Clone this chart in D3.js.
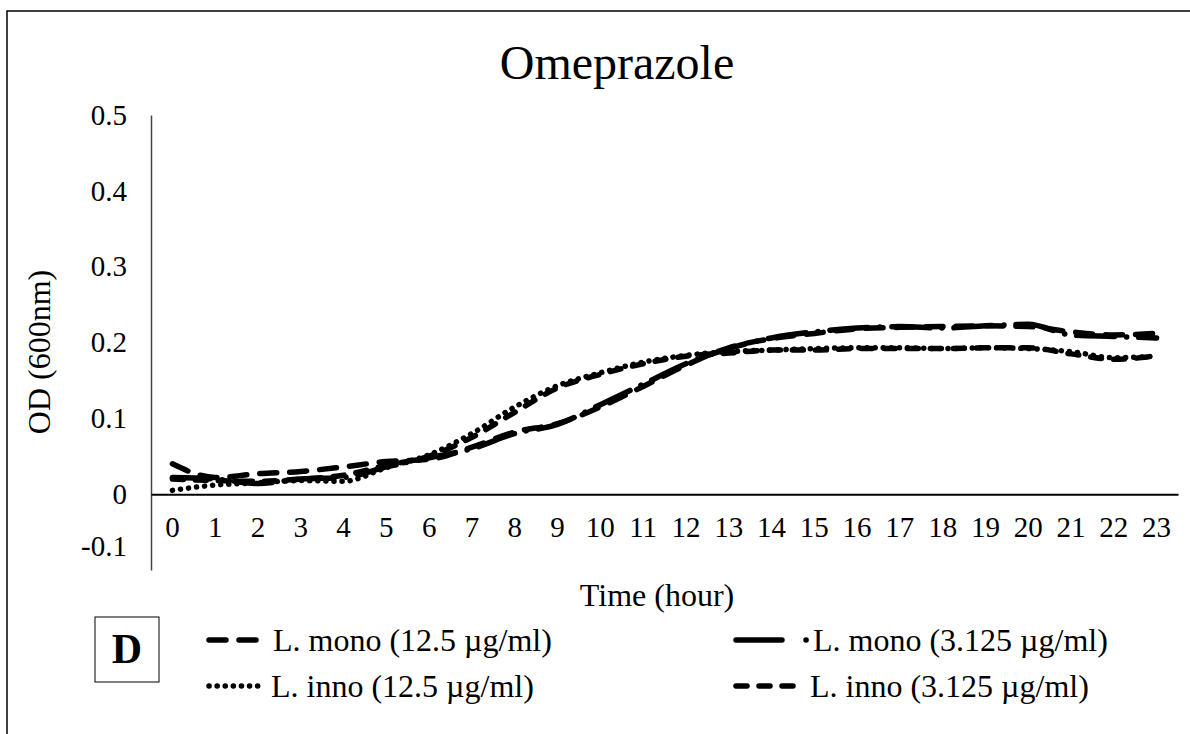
<!DOCTYPE html>
<html><head><meta charset="utf-8">
<script src="https://cdn.jsdelivr.net/npm/d3@7/dist/d3.min.js"></script>
<style>
body{margin:0;background:#fff}
text{font-family:"Liberation Serif","Times New Roman",serif;fill:#000}
</style></head><body>
<svg id="c" width="1190" height="734"></svg>
<script>
const hours = ["0","1","2","3","4","5","6","7","8","9","10","11","12","13","14","15","16","17","18","19","20","21","22","23"];
const yTicks = [-0.1, 0, 0.1, 0.2, 0.3, 0.4, 0.5];
const yTickLabels = ["-0.1","0","0.1","0.2","0.3","0.4","0.5"];
const seriesNames = ["L. mono (12.5 µg/ml)", "L. mono (3.125 µg/ml)", "L. inno (12.5 µg/ml)", "L. inno (3.125 µg/ml)"];
const monoHigh = [0.040,0.022,0.027,0.030,0.036,0.043,0.046,0.062,0.082,0.093,0.115,0.142,0.170,0.193,0.205,0.212,0.218,0.220,0.221,0.222,0.221,0.214,0.210,0.212];
const monoLow  = [0.022,0.020,0.014,0.020,0.022,0.036,0.048,0.060,0.080,0.092,0.118,0.145,0.172,0.192,0.206,0.214,0.219,0.221,0.219,0.222,0.224,0.210,0.208,0.206];
const innoHigh = [0.005,0.012,0.015,0.018,0.017,0.035,0.052,0.080,0.115,0.143,0.160,0.174,0.183,0.188,0.190,0.192,0.193,0.193,0.192,0.193,0.192,0.188,0.180,0.182];
const innoLow  = [0.020,0.018,0.017,0.020,0.025,0.038,0.050,0.075,0.108,0.140,0.158,0.172,0.182,0.186,0.190,0.190,0.192,0.192,0.192,0.193,0.193,0.185,0.178,0.182];

const svg = d3.select("#c");
const dashes = ["17,13", "38,12,0.1,12", "0.1,8", "11,12"];
const legDashes = ["17,13", "46,24,0.1,100", "0.1,8", "11,12"];
const series = [monoHigh, monoLow, innoHigh, innoLow];

svg.append("rect").attr("x",7).attr("y",11).attr("width",1300).attr("height",900)
  .attr("fill","none").attr("stroke","#000").attr("stroke-width",1.5);

const x = d3.scaleBand().domain(hours).range([151,1178]);
const y = d3.scaleLinear().domain([-0.1,0.5]).range([570,115]);

const ya = svg.append("g").attr("transform","translate(151,0)")
  .call(d3.axisLeft(y).tickValues(yTicks).tickSize(0).tickPadding(24).tickFormat((d,i)=>yTickLabels[i]));
ya.select(".domain").attr("stroke","#444").attr("stroke-width",1.5);
ya.selectAll("text").attr("font-size",29).style("font-family","Liberation Serif");
ya.selectAll(".tick").filter(d=>d<0).select("text").attr("dy","-0.5em");

const xa = svg.append("g").attr("transform",`translate(0,${y(0)})`)
  .call(d3.axisBottom(x).tickSize(0).tickPadding(22));
xa.select(".domain").attr("stroke","#000").attr("stroke-width",2);
xa.selectAll("text").attr("font-size",29).style("font-family","Liberation Serif");

const line = d3.line().x((d,i)=>x(hours[i])+x.bandwidth()/2).y(d=>y(d)).curve(d3.curveMonotoneX);
series.forEach((s,k)=>{
  svg.append("path").datum(s).attr("d",line).attr("fill","none").attr("stroke","#000")
    .attr("stroke-width",5.5).attr("stroke-linecap","round").attr("stroke-dasharray",dashes[k]);
});

svg.append("text").attr("x",617).attr("y",79).attr("text-anchor","middle").attr("font-size",48).text("Omeprazole");
svg.append("text").attr("x",657).attr("y",606).attr("text-anchor","middle").attr("font-size",32).text("Time (hour)");
svg.append("text").attr("transform","translate(50,352) rotate(-90)").attr("text-anchor","middle").attr("font-size",32).text("OD (600nm)");

svg.append("rect").attr("x",95).attr("y",617).attr("width",64).attr("height",65).attr("fill","#fff").attr("stroke","#000").attr("stroke-width",1);
svg.append("text").attr("x",127).attr("y",663).attr("text-anchor","middle").attr("font-size",42).attr("font-weight","bold").text("D");

const legPos = [[209,640],[736,640],[209,686],[736,686]];
const legLen = [54, 71, 52, 64];
const legGap = [10, 6, 10, 10];
seriesNames.forEach((n,k)=>{
  const [lx,ly] = legPos[k];
  svg.append("line").attr("x1",lx).attr("x2",lx+legLen[k]).attr("y1",ly).attr("y2",ly)
    .attr("stroke","#000").attr("stroke-width",5.5).attr("stroke-linecap","round").attr("stroke-dasharray",legDashes[k]);
  svg.append("text").attr("x",lx+legLen[k]+legGap[k]).attr("y",ly+11).attr("font-size",32).text(n);
});
</script></body></html>
